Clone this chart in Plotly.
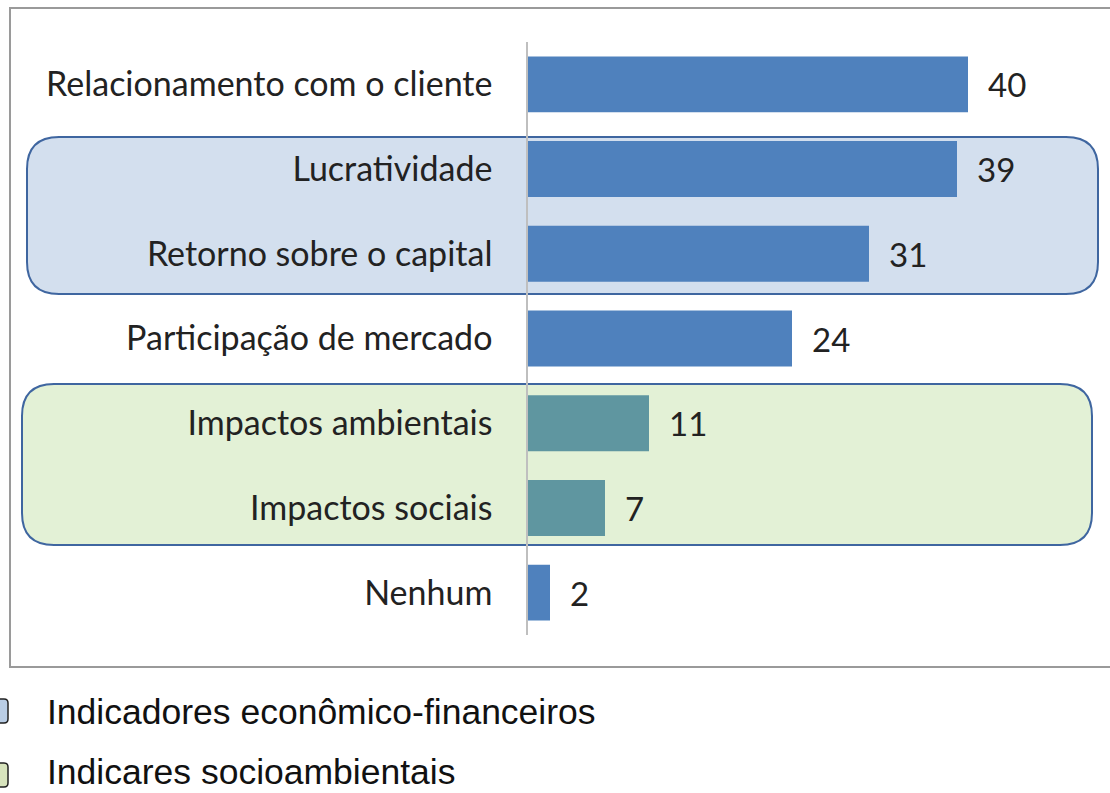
import plotly.graph_objects as go

categories = ["Relacionamento com o cliente", "Lucratividade", "Retorno sobre o capital",
              "Participação de mercado", "Impactos ambientais", "Impactos sociais", "Nenhum"]
values = [40, 39, 31, 24, 11, 7, 2]
groups = ["outro", "eco", "eco", "outro", "socio", "socio", "outro"]
legend_labels = ["Indicadores econômico-financeiros", "Indicares socioambientais"]

bar_colors = {"outro": "#4F81BD", "eco": "#4F81BD", "socio": "#5F96A0"}

W, H = 1110, 793
ML, MR, MT, MB = 528, 10, 42, 158
PW, PH = W - ML - MR, H - MT - MB

def px(x):
    return (x - ML) / PW

def py(y):
    return (H - MB - y) / PH

def rounded(x0, y0, x1, y1, r):
    # pixel coords -> paper path with rounded corners (quadratic)
    pts = [
        f"M {px(x0 + r)} {py(y0)}",
        f"L {px(x1 - r)} {py(y0)}",
        f"Q {px(x1)} {py(y0)} {px(x1)} {py(y0 + r)}",
        f"L {px(x1)} {py(y1 - r)}",
        f"Q {px(x1)} {py(y1)} {px(x1 - r)} {py(y1)}",
        f"L {px(x0 + r)} {py(y1)}",
        f"Q {px(x0)} {py(y1)} {px(x0)} {py(y1 - r)}",
        f"L {px(x0)} {py(y0 + r)}",
        f"Q {px(x0)} {py(y0)} {px(x0 + r)} {py(y0)}",
        "Z",
    ]
    return " ".join(pts)

fig = go.Figure()
fig.add_trace(go.Bar(
    x=values, y=categories, orientation="h",
    marker=dict(color=[bar_colors[g] for g in groups], line=dict(width=0)),
    hoverinfo="skip",
))

shapes = []
# outer frame
shapes.append(dict(type="rect", xref="paper", yref="paper", x0=px(10), x1=px(1116), y0=py(8), y1=py(667),
                   line=dict(color="#9A9A9A", width=2), fillcolor="rgba(0,0,0,0)", layer="below"))
# group boxes
shapes.append(dict(type="path", xref="paper", yref="paper", path=rounded(27, 137, 1098, 294, 32),
                   fillcolor="#D3DFEE", line=dict(color="#3F66A0", width=2), layer="below"))
shapes.append(dict(type="path", xref="paper", yref="paper", path=rounded(22, 384, 1092, 545, 32),
                   fillcolor="#E3F1D6", line=dict(color="#3F66A0", width=2), layer="below"))
# legend swatches
shapes.append(dict(type="path", xref="paper", yref="paper", path=rounded(-12, 699, 8, 723, 4),
                   fillcolor="#B9CDE5", line=dict(color="#222222", width=1.5), layer="below"))
shapes.append(dict(type="path", xref="paper", yref="paper", path=rounded(-12, 763, 8, 787, 4),
                   fillcolor="#D8E4BD", line=dict(color="#222222", width=1.5), layer="below"))

annotations = []
for c, v in zip(categories, values):
    annotations.append(dict(x=v, y=c, xref="x", yref="y", text=str(v), showarrow=False,
                            xanchor="left", xshift=18,
                            font=dict(family="Lato", size=33, color="#222222")))
legend_y = [712, 772]
for t, ly in zip(legend_labels, legend_y):
    annotations.append(dict(x=px(45), y=py(ly), xref="paper", yref="paper", text=t,
                            showarrow=False, xanchor="left", yanchor="middle",
                            font=dict(family="Liberation Sans", size=35.5, color="#111111")))

fig.update_layout(
    width=W, height=H,
    margin=dict(l=ML, r=MR, t=MT, b=MB, autoexpand=False),
    paper_bgcolor="white", plot_bgcolor="rgba(0,0,0,0)",
    bargap=0.34, showlegend=False,
    shapes=shapes, annotations=annotations,
    xaxis=dict(range=[0, PW / 11], visible=False, fixedrange=True),
    yaxis=dict(autorange="reversed", showline=True, linecolor="#BFBFBF", linewidth=1.5,
               ticks="", ticklabelstandoff=27, showgrid=False,
               tickfont=dict(family="Lato", size=34, color="#222222")),
)

fig.write_html("out.html", config={"displayModeBar": False},
               post_script="document.body.style.margin='0';")
